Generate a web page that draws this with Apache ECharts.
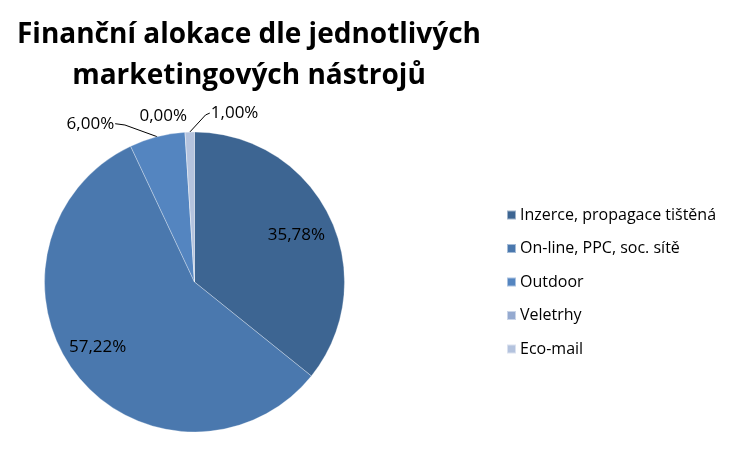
<!DOCTYPE html>
<html><head><meta charset="utf-8">
<script src="https://cdn.jsdelivr.net/npm/echarts@6/dist/echarts.min.js"></script>
<style>html,body{margin:0;padding:0;background:#fff}#c{width:732px;height:456px}</style>
</head><body><div id="c"></div>
<script>
const categories = ['Inzerce, propagace tištěná', 'On-line, PPC, soc. sítě', 'Outdoor', 'Veletrhy', 'Eco-mail'];
const values = [35.78, 57.22, 6.00, 0.00, 1.00];
const colors = ['#3D6592', '#4A78AE', '#5485C0', '#95AAD0', '#B4C3DE'];
const insideLabels = [true, true, false, false, false];

const fmt = v => v.toFixed(2).replace('.', ',') + '%';
const FONT = 'Open Sans';
const chart = echarts.init(document.getElementById('c'), null, {renderer: 'canvas'});
const data = categories.map((n, i) => ({name: n, value: values[i], itemStyle: {color: colors[i]}}));

// label offsets relative to the slice's edge anchor (styling only)
const outsideOffsets = {
  2: {dx: -43, dy: -13, align: 'right', line: true},
  3: {dx: 2, dy: -16, align: 'right', line: false},
  4: {dx: 21, dy: -19, align: 'left', line: true}
};

chart.setOption({
  animation: false,
  title: {
    text: 'Finanční alokace dle jednotlivých\nmarketingových nástrojů',
    left: 244, top: 10, textAlign: 'center',
    textStyle: {fontFamily: FONT, fontWeight: 'bold', fontSize: 28, lineHeight: 41, color: '#000'}
  },
  legend: {
    orient: 'vertical', left: 506, top: 205, padding: 0,
    itemWidth: 9, itemHeight: 9, itemGap: 13.5, icon: 'rect',
    textStyle: {fontFamily: FONT, fontSize: 16, lineHeight: 20, color: '#000', padding: [0, 0, 0, -1]},
    data: categories
  },
  series: [
    {
      type: 'pie', center: [194.5, 282], radius: 150, startAngle: 90, clockwise: true,
      minAngle: 0, avoidLabelOverlap: false,
      itemStyle: {borderColor: 'rgba(255,255,255,0.5)', borderWidth: 0.6},
      label: {show: false},
      labelLine: {show: false},
      labelLayout: function (p) {
        const o = outsideOffsets[p.dataIndex];
        if (!o || !p.labelLinePoints) return {hideOverlap: false};
        const a = p.labelLinePoints[0];
        const end = [a[0] + o.dx + (o.align === 'right' ? 1 : -1), a[1] + o.dy];
        const mid = [a[0] + o.dx * 0.75, a[1] + o.dy * 0.9];
        return {
          hideOverlap: false, moveOverlap: null,
          x: a[0] + o.dx, y: a[1] + o.dy, align: o.align, verticalAlign: 'middle',
          labelLinePoints: o.line ? [a, mid, end] : [a, a, a]
        };
      },
      data: data.map((d, i) => Object.assign({}, d, insideLabels[i] ? {} : {
        label: {show: true, position: 'outside', formatter: p => fmt(p.value),
                fontFamily: FONT, fontSize: 17, color: '#000'},
        labelLine: {show: outsideOffsets[i].line, length: 10, length2: 8, lineStyle: {color: '#000', width: 1}}
      }))
    },
    {
      type: 'pie', center: [194.5, 282], radius: [70, 150], startAngle: 90, clockwise: true,
      silent: true, legendHoverLink: false,
      itemStyle: {color: 'rgba(0,0,0,0)'},
      label: {show: true, position: 'inside', formatter: p => fmt(p.value),
              fontFamily: FONT, fontSize: 17, color: '#000'},
      labelLine: {show: false},
      labelLayout: function (p) {
        return p.dataIndex === 1 ? {dx: -8, dy: -5} : {dy: 2};
      },
      data: data.map((d, i) => ({name: d.name, value: d.value, itemStyle: {color: 'rgba(0,0,0,0)'},
        label: {show: insideLabels[i]}}))
    }
  ]
});
</script></body></html>
